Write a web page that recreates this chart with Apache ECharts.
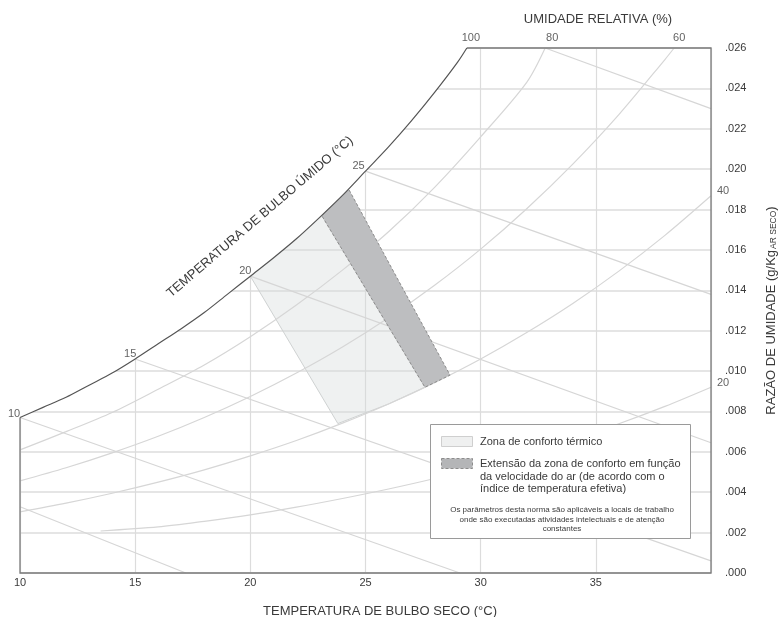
<!DOCTYPE html>
<html><head><meta charset="utf-8">
<script src="https://cdn.jsdelivr.net/npm/echarts@6/dist/echarts.min.js"></script>
<style>html,body{margin:0;padding:0;background:#fff}#c{width:778px;height:617px}</style>
</head><body><div id="c"></div>
<script>
// ---------- data ----------
// saturation curve (100 % RH) : [dry-bulb °C, humidity ratio kg/kg]
const saturation = [[10,0.0077],[11,0.0082],[12,0.0087],[13,0.0093],[14,0.0099],[15,0.0106],[16,0.01135],[17,0.0121],[18,0.0129],[19,0.0138],[20,0.0147],[21,0.0156],[22,0.01655],[23,0.0176],[24,0.0187],[25,0.0199],[26,0.0211],[27,0.0224],[28,0.0238],[29,0.0253],[29.4,0.026]];
// relative-humidity curves
const rh80 = [[10,0.0061],[12,0.0070],[14,0.00795],[16,0.0091],[18,0.0103],[20,0.0117],[22,0.01327],[24,0.0150],[26,0.0169],[28,0.0191],[30,0.0216],[32,0.0243],[32.8,0.026]];
const rh60 = [[10,0.00456],[12,0.00521],[14,0.00595],[16,0.00677],[18,0.0077],[20,0.00874],[22,0.0099],[24,0.01119],[26,0.01264],[28,0.01425],[30,0.01604],[32,0.01804],[34,0.02025],[36,0.0227],[38,0.02543],[38.4,0.026]];
const rh40 = [[10,0.00303],[12,0.00346],[14,0.00395],[16,0.0045],[18,0.00511],[20,0.0058],[22,0.00656],[24,0.00742],[26,0.00837],[28,0.00943],[30,0.0106],[32,0.01191],[34,0.01335],[36,0.01495],[38,0.01672],[40,0.01868]];
const rh20 = [[13.5,0.00208],[16,0.00228],[18,0.00256],[20,0.00288],[22,0.00326],[24,0.00369],[26,0.00416],[28,0.00468],[30,0.00526],[32,0.0059],[34,0.00661],[36,0.00739],[38,0.00825],[40,0.0092]];
// wet-bulb lines
const wb30 = [[32.8,0.026],[40,0.0230]];
const wb25 = [[25,0.0199],[40,0.0138]];
const wb20 = [[20,0.0147],[40,0.00645]];
const wb15 = [[15,0.0106],[40,0.0006]];
const wb10 = [[10,0.0077],[29.1,0]];
const wb5  = [[10,0.00328],[17.2,0]];
// comfort zones
const comfortZone  = [[20,0.0147],[23.1,0.0177],[27.58,0.0092],[26,0.00837],[23.8,0.0074]];
const airSpeedZone = [[23.1,0.0177],[24.25,0.01905],[28.67,0.0098],[27.58,0.0092]];
// curve labels
const wetBulbLabels   = ['10','15','20','25'];
const wetBulbLabelPts = [[10,0.0077],[15,0.0106],[20,0.0147],[25,0.0199]];
const rhLabels   = ['100','80','60','40','20'];
const rhLabelPts = [[29.4,0.026],[32.8,0.026],[38.4,0.026],[40,0.01868],[40,0.0092]];
// axis ranges / ticks
const xRange = [10,40], xStep = 5;
const yRange = [0,0.026], yStep = 0.002;

// ---------- styling ----------
const FONT = "'Liberation Sans', Arial, sans-serif";
const TXT = '#3a3a3a';
const LIGHT = '#d6d6d6';
const wbLabelOffsets = [[-6,-4],[-5,-5],[-5,-5],[-7,-5]];
const rhLabelOffsets = [[4,-10],[7,-10],[5,-10],[12,-5],[12,-4]];

function curve(name, data, smooth){
  return {type:'line', name, data, smooth: smooth ? 0.3 : false,
    symbol:'none', silent:true, z:2, lineStyle:{color:LIGHT, width:1.2}};
}
function poly(name, pts, style, z){
  return {type:'custom', name, silent:true, z, data:[pts[0]],
    renderItem:(params, api)=>({type:'polygon', shape:{points: pts.map(p=>api.coord(p))}, style})};
}

const labelData = [];
wetBulbLabels.forEach((t,i)=>labelData.push({value:wetBulbLabelPts[i], label:{formatter:t, offset:wbLabelOffsets[i]}}));
rhLabels.forEach((t,i)=>labelData.push({value:rhLabelPts[i], label:{formatter:t, offset:rhLabelOffsets[i]}}));

const chart = echarts.init(document.getElementById('c'), null, {renderer:'canvas'});
chart.setOption({
  animation:false,
  backgroundColor:'#fff',
  grid:{left:20, right:67, top:48, bottom:44, containLabel:false, outerBoundsMode:'none'},
  xAxis:{type:'value', min:xRange[0], max:xRange[1], interval:xStep,
    axisLine:{show:false}, axisTick:{show:false},
    splitLine:{lineStyle:{color:'#dcdcdc', width:1.2}},
    axisLabel:{margin:4, color:TXT, fontSize:11, fontFamily:FONT, showMaxLabel:false}},
  yAxis:{type:'value', position:'right', min:yRange[0], max:yRange[1], interval:yStep,
    axisLine:{show:false}, axisTick:{show:false},
    splitLine:{lineStyle:{color:'#dcdcdc', width:1.5}},
    axisLabel:{margin:14, color:TXT, fontSize:11, fontFamily:FONT,
      formatter:v=>v.toFixed(3).replace(/^0/,'')},
    name:'RAZÃO DE UMIDADE (g/Kg{sub|AR SECO})', nameLocation:'middle', nameRotate:90, nameGap:54,
    nameTextStyle:{color:TXT, fontSize:13, fontFamily:FONT,
      rich:{sub:{fontSize:8.5, fontFamily:FONT, color:TXT, verticalAlign:'bottom', padding:[4,0,0,1]}}}},
  series:[
    poly('Zona de conforto térmico', comfortZone, {fill:'rgba(212,218,218,0.38)', stroke:'#cfd2d2', lineWidth:1}, 1),
    curve('UR 80', rh80, true),
    curve('UR 60', rh60, true),
    curve('UR 40', rh40, true),
    curve('UR 20', rh20, true),
    curve('TBU 30', wb30),
    curve('TBU 25', wb25),
    curve('TBU 20', wb20),
    curve('TBU 15', wb15),
    curve('TBU 10', wb10),
    curve('TBU 5', wb5),
    poly('Extensão da zona de conforto', airSpeedZone, {fill:'#bdbec0', stroke:'#8c8c8c', lineWidth:1, lineDash:[3,2]}, 3),
    {type:'custom', name:'mask', silent:true, z:4, data:[saturation[0]],
      renderItem:(params, api)=>{
        const cs = params.coordSys;
        const pts = saturation.map(p=>api.coord(p));
        const last = pts[pts.length-1], first = pts[0];
        pts.push([last[0], cs.y-4], [cs.x-4, cs.y-4], [cs.x-4, first[1]]);
        return {type:'polygon', shape:{points:pts}, style:{fill:'#fff'}};
      }},
    {type:'line', name:'UR 100', data:saturation, smooth:0.3, symbol:'none', silent:true, z:6,
      lineStyle:{color:'#555', width:1.2}},
    {type:'custom', name:'frame', silent:true, z:6, data:[saturation[0]],
      renderItem:(params, api)=>{
        const pts = [saturation[0],[xRange[0],yRange[0]],[xRange[1],yRange[0]],[xRange[1],yRange[1]],saturation[saturation.length-1]].map(p=>api.coord(p));
        return {type:'polyline', shape:{points:pts}, style:{stroke:'#7a7a7a', lineWidth:1.3, fill:null}};
      }},
    {type:'scatter', name:'labels', data:labelData, symbolSize:1, silent:true, z:7,
      itemStyle:{color:'rgba(0,0,0,0)'},
      label:{show:true, position:'inside', color:TXT, fontSize:11, fontFamily:FONT}}
  ],
  graphic:[
    {type:'text', z:100, zlevel:1, x:598, y:19, style:{text:'UMIDADE RELATIVA (%)', font:'13px '+FONT, fill:TXT, align:'center', verticalAlign:'middle'}},
    {type:'text', z:100, zlevel:1, x:380, y:611, style:{text:'TEMPERATURA DE BULBO SECO (°C)', font:'13px '+FONT, fill:TXT, align:'center', verticalAlign:'middle'}},
    {type:'text', z:100, zlevel:1, x:260, y:217, rotation:40.5*Math.PI/180, style:{text:'TEMPERATURA DE BULBO ÚMIDO (°C)', font:'13px '+FONT, fill:TXT, align:'center', verticalAlign:'middle'}},
    {type:'rect', z:100, zlevel:1, shape:{x:430.5, y:424.5, width:260, height:114}, style:{fill:'#fff', stroke:'#9a9a9a', lineWidth:1}},
    {type:'rect', z:101, zlevel:1, shape:{x:441.5, y:436.5, width:31, height:10}, style:{fill:'#eff0f0', stroke:'#cfcfcf', lineWidth:1}},
    {type:'rect', z:101, zlevel:1, shape:{x:441.5, y:458.5, width:31, height:10}, style:{fill:'#b4b5b7', stroke:'#8c8c8c', lineWidth:1, lineDash:[3,2]}},
    {type:'text', z:101, zlevel:1, x:480, y:442, style:{text:'Zona de conforto térmico', font:'11px '+FONT, fill:TXT, align:'left', verticalAlign:'middle'}},
    {type:'text', z:101, zlevel:1, x:480, y:458, style:{text:'Extensão da zona de conforto em função\nda velocidade do ar (de acordo com o\níndice de temperatura efetiva)', font:'11px '+FONT, fill:TXT, align:'left', verticalAlign:'top', lineHeight:12.4}},
    {type:'text', z:101, zlevel:1, x:562, y:505, style:{text:'Os parâmetros desta norma são aplicáveis a locais de trabalho\nonde são executadas atividades intelectuais e de atenção\nconstantes', font:'8px '+FONT, fill:TXT, align:'center', verticalAlign:'top', lineHeight:9.7}}
  ]
});
</script></body></html>
